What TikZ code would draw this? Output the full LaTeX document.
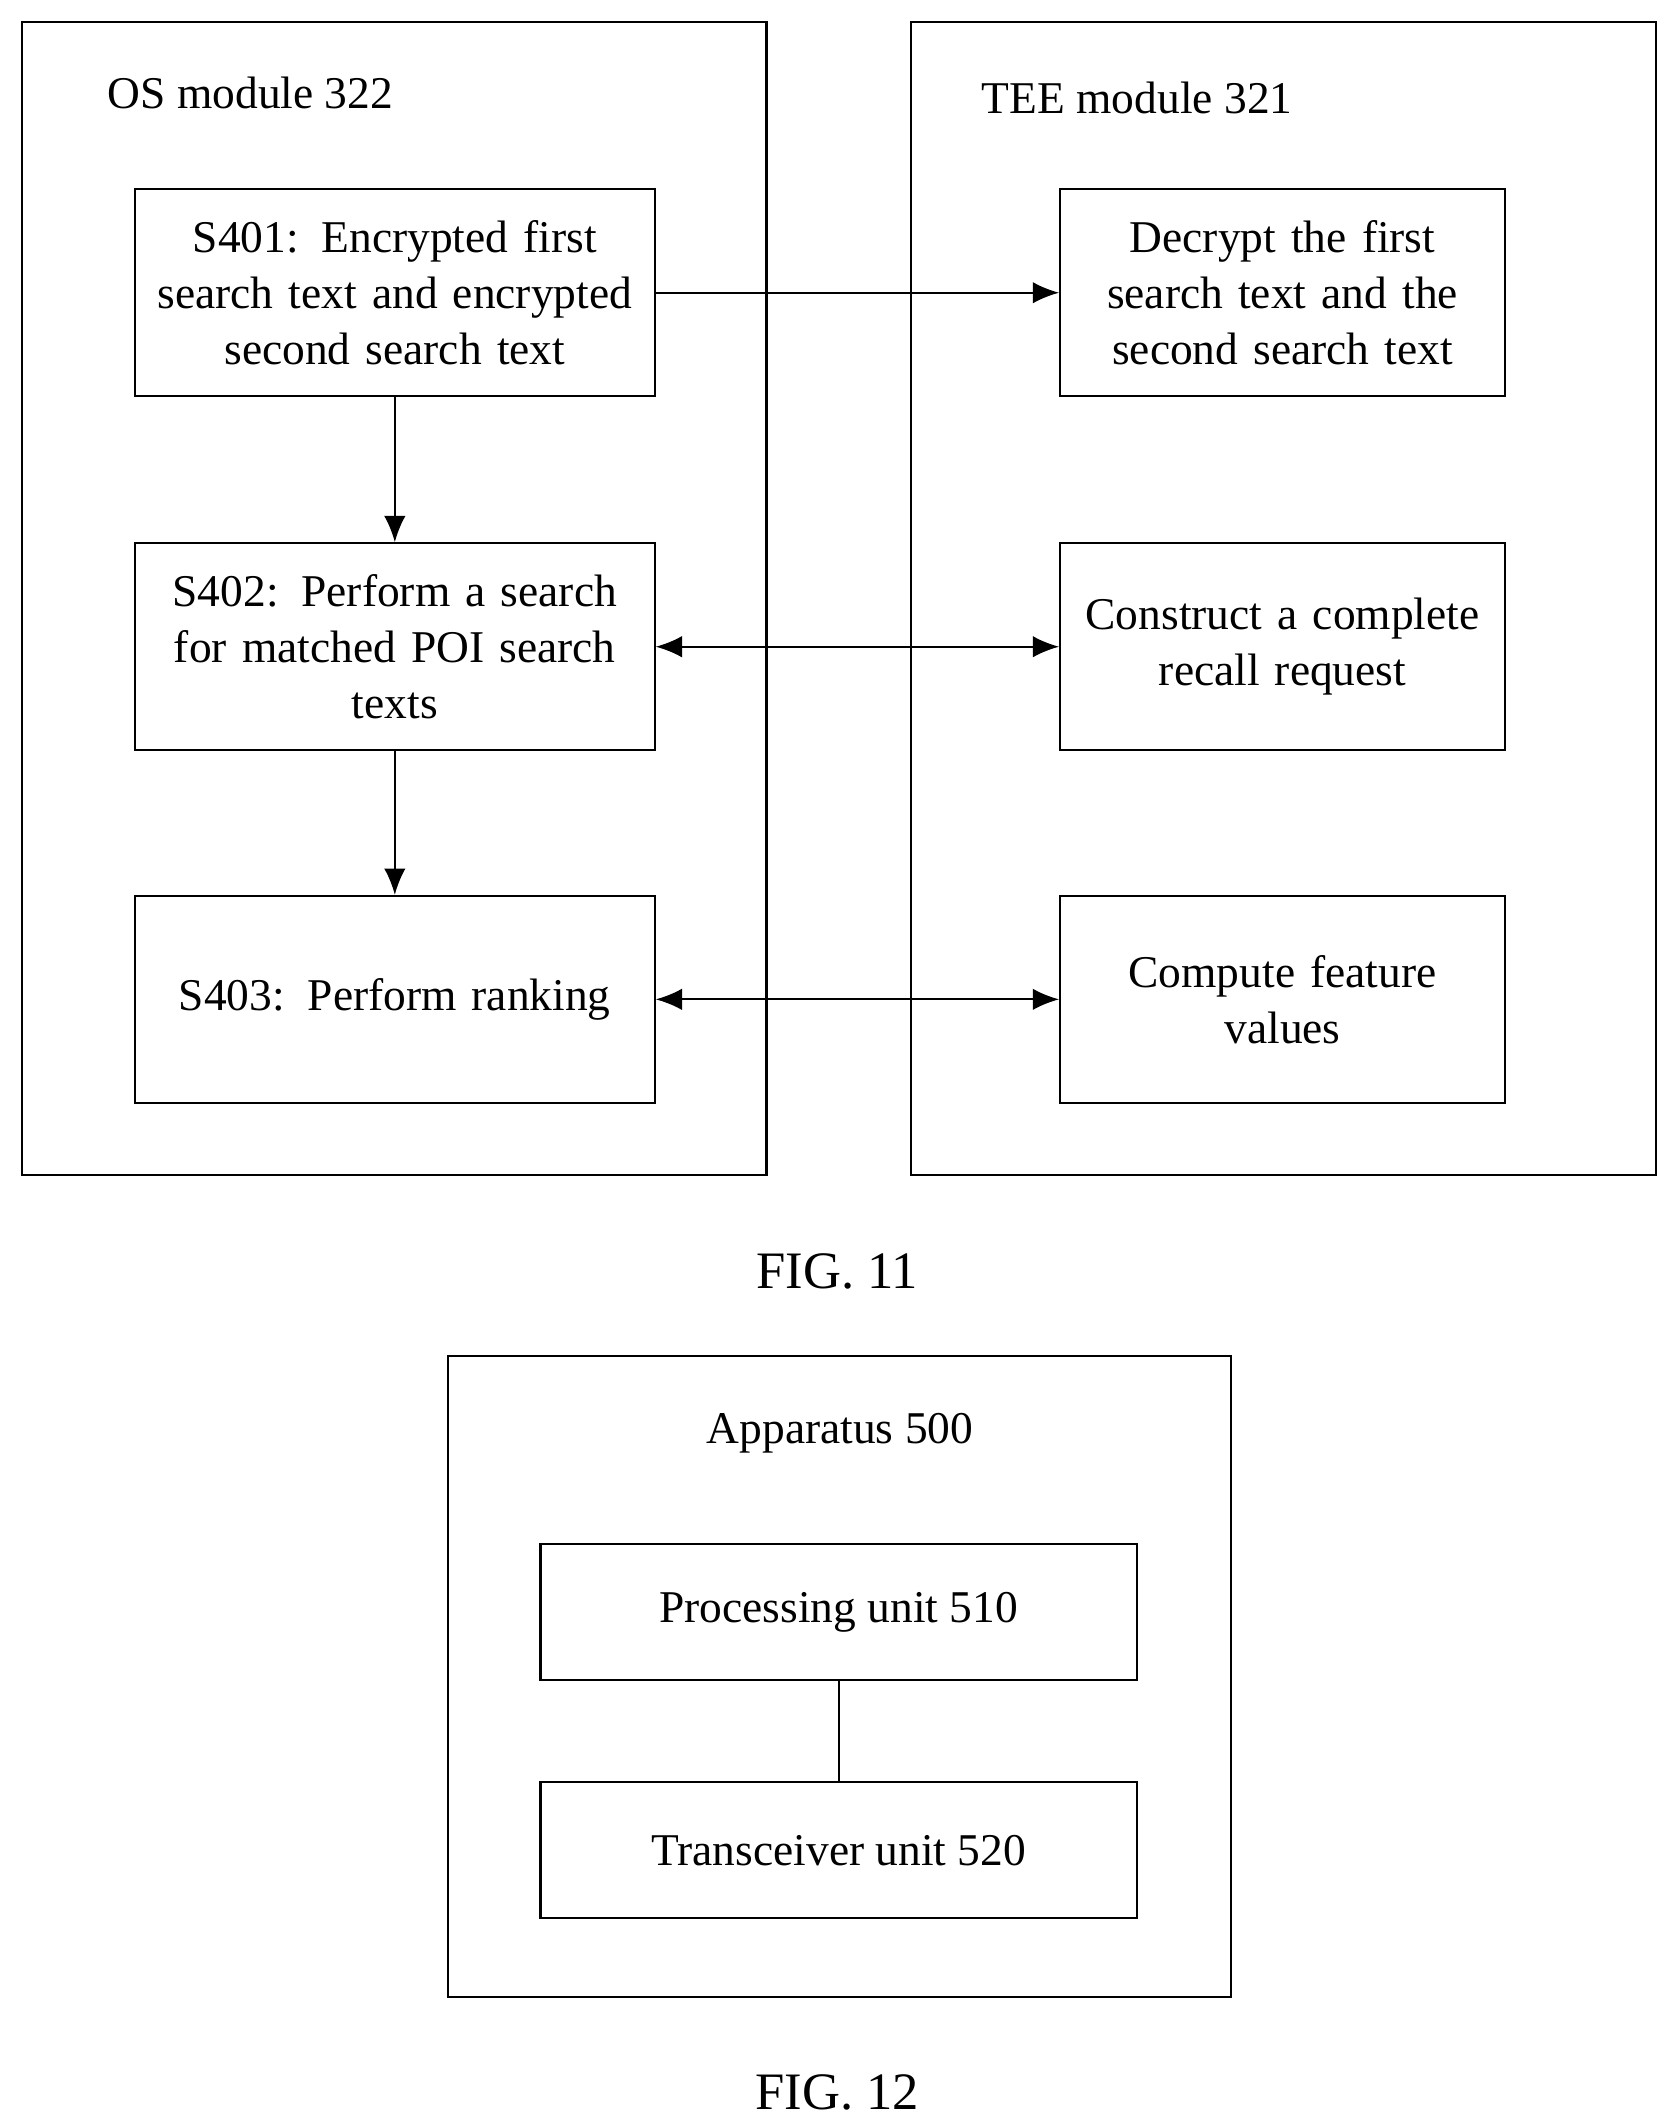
\documentclass[tikz,border=0pt]{standalone}
\usepackage{fontspec}
\setmainfont{Liberation Serif}
\usetikzlibrary{arrows.meta, positioning}

\begin{document}
\begin{tikzpicture}[
    x=0.02cm, y=-0.02cm,
    font=\fontsize{19}{23.5}\selectfont,
    % Styles
    modulebox/.style={rectangle, draw=black, line width=0.9pt},
    stepbox/.style={rectangle, draw=black, line width=0.9pt, minimum width=7.6cm, minimum height=3.04cm, align=center, text width=7.4cm},
    teebox/.style={rectangle, draw=black, line width=0.9pt, minimum width=6.52cm, minimum height=3.04cm, align=center, text width=6.3cm},
    unitbox/.style={rectangle, draw=black, line width=0.9pt, minimum width=8.76cm, minimum height=2cm, align=center},
    arrow/.style={-{Latex[length=11pt,width=9pt]}, line width=0.9pt},
    darrow/.style={{Latex[length=11pt,width=9pt]}-{Latex[length=11pt,width=9pt]}, line width=0.9pt}
]
\useasboundingbox (0,0) rectangle (1228,1563);

% FIG. 11 containers
\draw[modulebox] (16,16) rectangle (563,863);
\draw[modulebox] (669,16) rectangle (1216,863);
\node[anchor=west] (oslabel) at (73,68) {OS module 322};
\node[anchor=west] (teelabel) at (715,72) {TEE module 321};

% OS steps
\node[stepbox] (s401) at (290,215) {S401: Encrypted first\\search text and encrypted\\second search text};
\node[stepbox] (s402) at (290,475) {S402: Perform a search\\for matched POI search\\texts};
\node[stepbox] (s403) at (290,734) {S403: Perform ranking};

% TEE steps
\node[teebox] (decrypt) at (942,215) {Decrypt the first\\search text and the\\second search text};
\node[teebox] (recall) at (942,475) {Construct a complete\\recall request};
\node[teebox] (feature) at (942,734) {Compute feature\\values};

% Connectors
\draw[arrow] (s401) -- (s402);
\draw[arrow] (s402) -- (s403);
\draw[arrow] (s401) -- (decrypt);
\draw[darrow] (s402) -- (recall);
\draw[darrow] (s403) -- (feature);

\node (fig11) at (615,934) {\fontsize{22}{26}\selectfont FIG. 11};

% FIG. 12
\draw[modulebox] (329,996) rectangle (904,1467);
\node (applabel) at (617,1053) {Apparatus 500};
\node[unitbox] (proc) at (616,1184) {Processing unit 510};
\node[unitbox] (trx) at (616,1359) {Transceiver unit 520};
\draw[line width=0.9pt] (proc) -- (trx);

\node (fig12) at (615,1537) {\fontsize{22}{26}\selectfont FIG. 12};
\end{tikzpicture}
\end{document}
